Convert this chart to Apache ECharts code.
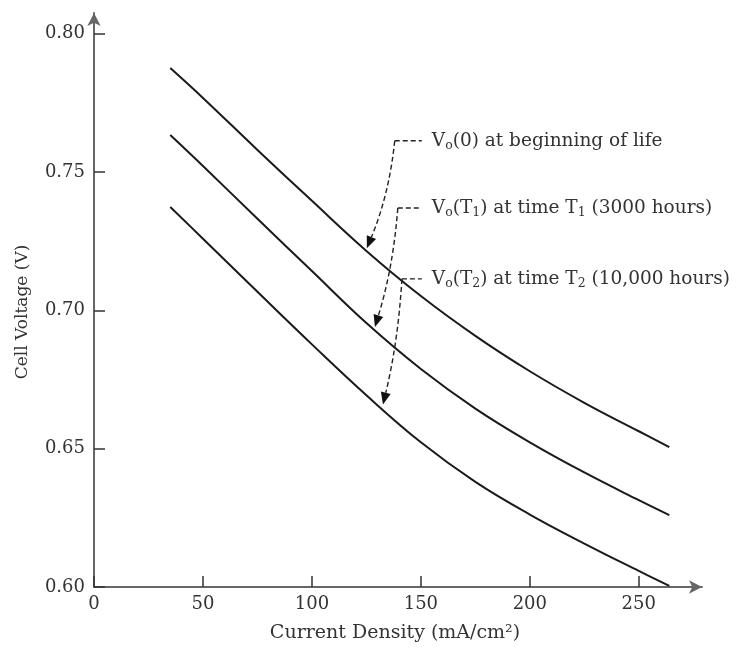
<!DOCTYPE html>
<html>
<head>
<meta charset="utf-8">
<script src="https://cdn.jsdelivr.net/npm/echarts@6/dist/echarts.min.js"></script>
<style>
html,body{margin:0;padding:0;background:#fff;}
#chart{width:743px;height:650px;}
</style>
</head>
<body>
<div id="chart"></div>
<script>
// ---- data ----
const currentDensity = [35, 50, 75, 100, 125, 150, 175, 200, 225, 250, 264];
const voltBOL = [0.7876, 0.7768, 0.7580, 0.7396, 0.7215, 0.7052, 0.6908, 0.6780, 0.6666, 0.6563, 0.6506];
const voltT1  = [0.7634, 0.7522, 0.7331, 0.7142, 0.6954, 0.6788, 0.6645, 0.6523, 0.6414, 0.6314, 0.6260];
const voltT2  = [0.7374, 0.7259, 0.7067, 0.6877, 0.6693, 0.6523, 0.6380, 0.6262, 0.6157, 0.6058, 0.6004];
const xTicks = [0, 50, 100, 150, 200, 250];
const yTicks = [0.60, 0.65, 0.70, 0.75, 0.80];
// annotations: label anchor (data), elbow corner x, arrow tip (data)
const annLabels = [
  '{n|V}{s|o}{n|(0) at beginning of life}',
  '{n|V}{s|o}{n|(T}{s|1}{n|) at time T}{s|1}{n| (3000 hours)}',
  '{n|V}{s|o}{n|(T}{s|2}{n|) at time T}{s|2}{n| (10,000 hours)}'
];
const annLabelPos = [[155, 0.7613], [155, 0.7370], [155, 0.7114]];
const annCornerX  = [138.0, 139.4, 141.3];
const annTip      = [[125.2, 0.7225], [128.9, 0.6940], [132.6, 0.6660]];

const FONT = 'DejaVu Serif';
const chart = echarts.init(document.getElementById('chart'));

function pairs(xs, ys){ return xs.map((x,i)=>[x, ys[i]]); }
const lineStyle = {color:'#1a1a1a', width:2};

chart.setOption({
  animation:false,
  grid:{left:94, right:41, top:13, bottom:63},
  xAxis:{
    type:'value', min:0, max:279,
    name:'Current Density (mA/cm²)', nameLocation:'middle', nameGap:37,
    nameTextStyle:{fontFamily:FONT, fontSize:19, color:'#333', padding:[0,6,0,0]},
    axisLine:{show:true, symbol:['none','arrow'], symbolSize:[10,13], lineStyle:{color:'#666', width:2}},
    axisTick:{show:true, inside:true, length:11, customValues:xTicks, lineStyle:{color:'#333', width:1.5}},
    axisLabel:{customValues:xTicks, fontFamily:FONT, fontSize:18, color:'#333', margin:8},
    splitLine:{show:false}
  },
  yAxis:{
    type:'value', min:0.6, max:0.8075,
    name:'Cell Voltage (V)', nameLocation:'middle', nameGap:63,
    nameTextStyle:{fontFamily:FONT, fontSize:17, color:'#333', padding:[0,24,0,0]},
    axisLine:{show:true, symbol:['none','arrow'], symbolSize:[10,13], lineStyle:{color:'#666', width:2}},
    axisTick:{show:true, inside:true, length:11, customValues:yTicks, lineStyle:{color:'#333', width:1.5}},
    axisLabel:{customValues:yTicks, fontFamily:FONT, fontSize:18, color:'#333', margin:9,
      formatter:v=>v.toFixed(2)},
    splitLine:{show:false}
  },
  series:[
    {type:'line', data:pairs(currentDensity, voltBOL), showSymbol:false, smooth:0.4, lineStyle},
    {type:'line', data:pairs(currentDensity, voltT1), showSymbol:false, smooth:0.4, lineStyle},
    {type:'line', data:pairs(currentDensity, voltT2), showSymbol:false, smooth:0.4, lineStyle}
  ]
});

// build annotation graphics from data coordinates
const graphics = [];
for (let i = 0; i < annLabels.length; i++) {
  const lab = chart.convertToPixel({gridIndex:0}, annLabelPos[i]);
  const corner = chart.convertToPixel({gridIndex:0}, [annCornerX[i], annLabelPos[i][1]]);
  const tip = chart.convertToPixel({gridIndex:0}, annTip[i]);
  const dashStyle = {stroke:'#222', lineWidth:1.4, lineDash:[5,3], fill:null};
  graphics.push({type:'line', shape:{x1:corner[0], y1:corner[1], x2:lab[0]-10, y2:lab[1]}, style:dashStyle, silent:true});
  const cp = [corner[0] - (corner[0]-tip[0])*0.2, corner[1] + (tip[1]-corner[1])*0.5];
  const headLen = 12;
  const dx = tip[0]-cp[0], dy = tip[1]-cp[1];
  const L = Math.sqrt(dx*dx+dy*dy);
  const ux = dx/L, uy = dy/L;
  const base = [tip[0]-ux*headLen, tip[1]-uy*headLen];
  graphics.push({type:'bezierCurve', shape:{x1:corner[0], y1:corner[1], x2:base[0], y2:base[1], cpx1:cp[0], cpy1:cp[1]}, style:dashStyle, silent:true});
  const w = 5;
  graphics.push({type:'polygon', shape:{points:[[tip[0],tip[1]],[base[0]-uy*w, base[1]+ux*w],[base[0]+uy*w, base[1]-ux*w]]}, style:{fill:'#111'}, silent:true});
  graphics.push({type:'text', x:lab[0], y:lab[1], silent:true, style:{
    text:annLabels[i], verticalAlign:'middle', align:'left',
    rich:{
      n:{fontFamily:FONT, fontSize:18.5, fill:'#333'},
      s:{fontFamily:FONT, fontSize:12.5, fill:'#333', padding:[10,0,0,0]}
    }
  }});
}
chart.setOption({graphic:graphics});
</script>
</body>
</html>
